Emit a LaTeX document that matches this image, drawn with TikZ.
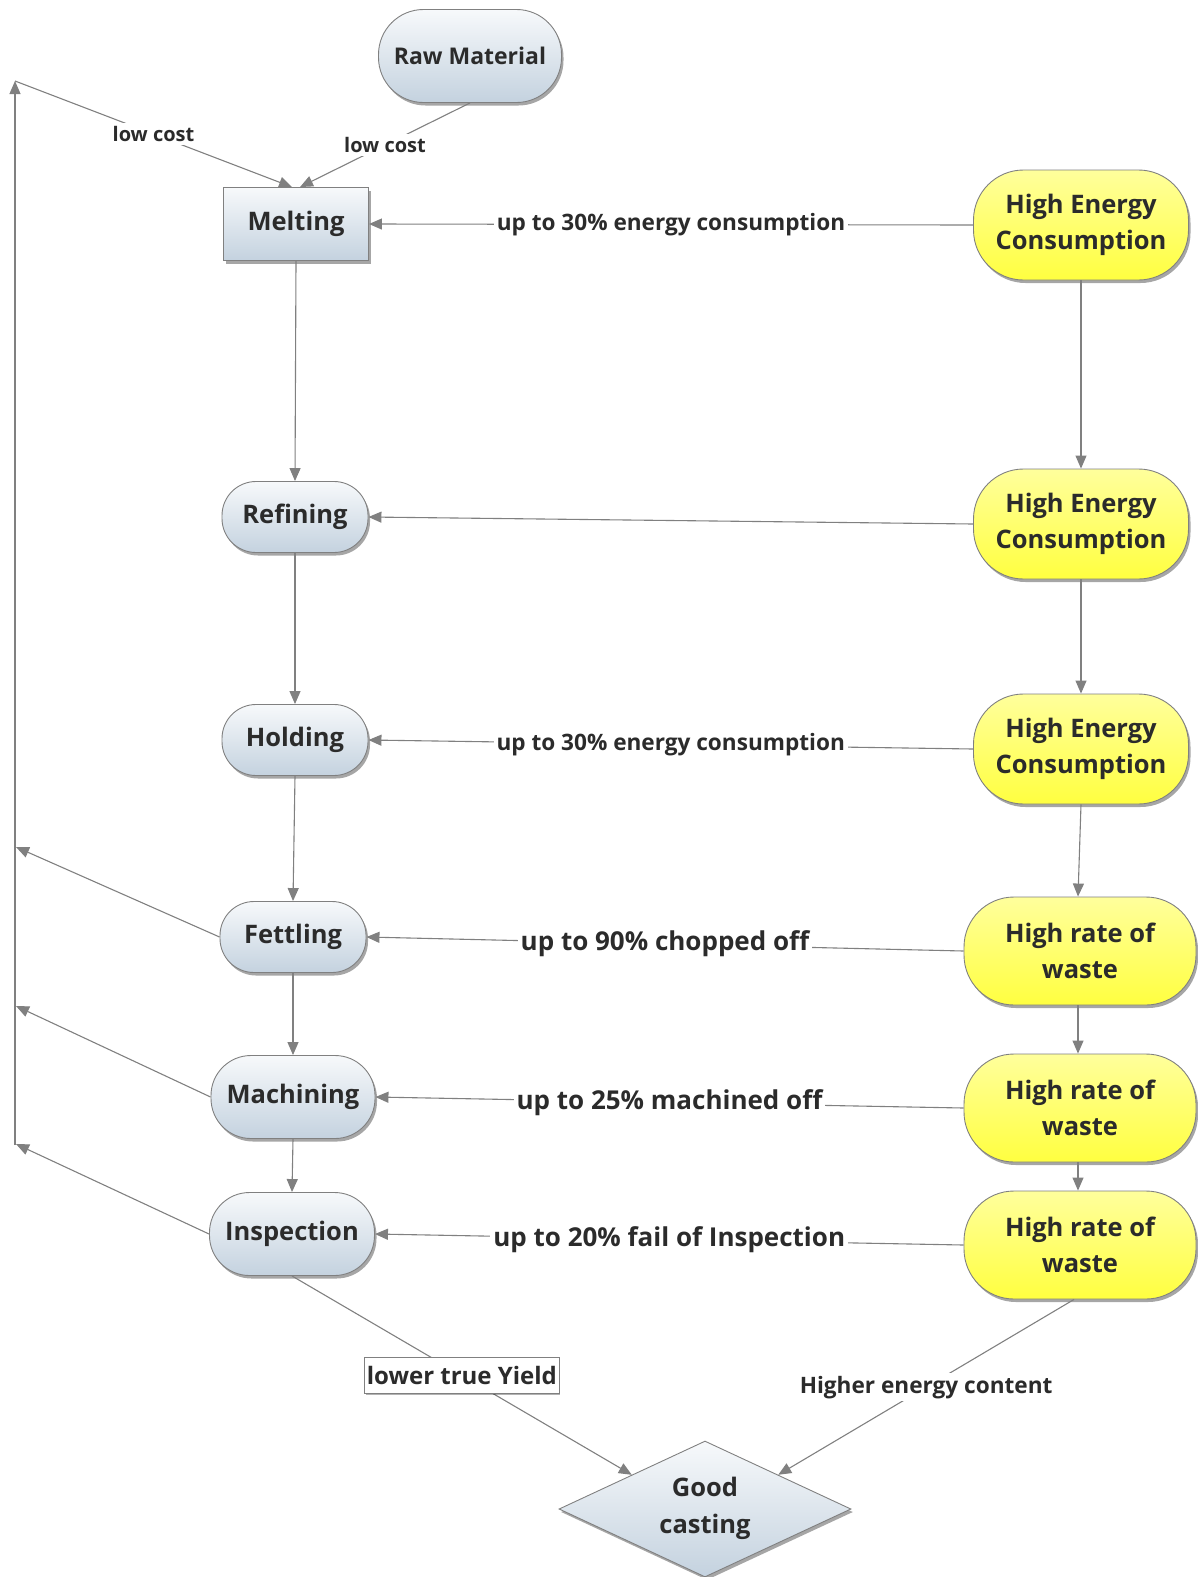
\documentclass[tikz,border=0pt]{standalone}
\usepackage{fontspec}
\setmainfont{Open Sans}
\usetikzlibrary{arrows.meta,shapes.geometric,shadows}
\definecolor{linegray}{HTML}{808080}
\definecolor{txt}{HTML}{2B2B2B}
\definecolor{btop}{HTML}{F7F9FB}
\definecolor{bbot}{HTML}{C4D2DF}
\definecolor{ytop}{HTML}{FFFF9C}
\definecolor{ymid}{HTML}{FFFF10}
\definecolor{ybot}{HTML}{FFFF40}
\begin{document}
\begin{tikzpicture}[x=1pt,y=1pt,
  base/.style={draw=linegray, line width=0.9pt, text=txt, align=center, inner sep=0pt,
    font=\fontsize{25.5}{36}\selectfont\bfseries,
    drop shadow={shadow xshift=2pt, shadow yshift=-3pt, opacity=0.35, fill=black}},
  procnode/.style={base, top color=btop, bottom color=bbot},
  yelnode/.style={base, top color=ytop, middle color=ymid, bottom color=ybot,
    minimum height=110pt, rounded corners=50pt},
  pill/.style={procnode, minimum height=71pt, rounded corners=34pt},
  conn/.style={draw=linegray, line width=1.1pt, -{Triangle[length=13pt,width=11pt]}},
  lbl/.style={fill=white, text=txt, inner sep=3pt, font=\fontsize{22.6}{26}\selectfont\bfseries},
  lblbig/.style={lbl, font=\fontsize{26}{30}\selectfont\bfseries},
  lblsmall/.style={lbl, font=\fontsize{20}{24}\selectfont\bfseries}
]
\useasboundingbox (0,0) rectangle (1197,-1577);

% left column
\node[procnode, minimum width=183pt, minimum height=93pt, rounded corners=45pt, font=\fontsize{23}{28}\selectfont\bfseries] (raw) at (470,-56) {Raw Material};
\node[procnode, minimum width=145pt, minimum height=73pt] (melting) at (296,-224) {Melting};
\node[pill, minimum width=146pt] (refining) at (295,-517) {Refining};
\node[pill, minimum width=146pt] (holding) at (295,-740) {Holding};
\node[pill, minimum width=146pt] (fettling) at (293,-937) {Fettling};
\node[pill, minimum width=164pt, minimum height=83pt, rounded corners=40pt] (machining) at (293,-1097) {Machining};
\node[pill, minimum width=165pt, minimum height=83pt, rounded corners=40pt] (inspection) at (292,-1234) {Inspection};

% right column
\node[yelnode, minimum width=215pt] (hec1) at (1081,-225) {High Energy\\Consumption};
\node[yelnode, minimum width=215pt] (hec2) at (1081,-524) {High Energy\\Consumption};
\node[yelnode, minimum width=215pt] (hec3) at (1081,-749) {High Energy\\Consumption};
\node[yelnode, minimum width=232pt, minimum height=108pt] (hrw1) at (1080,-951) {High rate of\\waste};
\node[yelnode, minimum width=232pt, minimum height=108pt] (hrw2) at (1080,-1108) {High rate of\\waste};
\node[yelnode, minimum width=232pt, minimum height=108pt] (hrw3) at (1080,-1245) {High rate of\\waste};

% good casting
\node[procnode, diamond, aspect=2.15, minimum width=292pt, minimum height=136pt, inner sep=0pt] (good) at (705,-1509) {};
\node[text=txt, font=\fontsize{25.5}{37}\selectfont\bfseries, align=center] (goodtxt) at (705,-1508) {Good\\casting};

% recycle loop coordinates
\coordinate (ltop) at (15,-81);
\coordinate (lbot) at (15,-1145);
\coordinate (ret1) at (16,-847);
\coordinate (ret2) at (16,-1006);
\coordinate (ret3) at (16,-1144);

% connectors
\draw[conn] (lbot) -- (ltop);
\draw[conn] (ltop) -- node[lblsmall]{low cost} ([xshift=-4pt]melting.north);
\draw[conn] (raw.south) -- node[lblsmall]{low cost} ([xshift=4pt]melting.north);

\draw[conn] (fettling.west) -- (ret1);
\draw[conn] (machining.west) -- (ret2);
\draw[conn] (inspection.west) -- (ret3);

\draw[conn] (melting.south) -- (refining.north);
\draw[conn] (refining.south) -- (holding.north);
\draw[conn] (holding.south) -- (fettling.north);
\draw[conn] (fettling.south) -- (machining.north);
\draw[conn] (machining.south) -- (inspection.north);

\draw[conn] (hec1.south) -- (hec2.north);
\draw[conn] (hec2.south) -- (hec3.north);
\draw[conn] (hec3.south) -- ([xshift=-2pt]hrw1.north);
\draw[conn] ([xshift=-2pt]hrw1.south) -- ([xshift=-2pt]hrw2.north);
\draw[conn] ([xshift=-2pt]hrw2.south) -- ([xshift=-2pt]hrw3.north);

\draw[conn] (hec1.west) -- node[lbl]{up to 30\% energy consumption} (melting.east);
\draw[conn] (hec2.west) -- (refining.east);
\draw[conn] (hec3.west) -- node[lbl]{up to 30\% energy consumption} (holding.east);
\draw[conn] (hrw1.west) -- node[lblbig]{up to 90\% chopped off} (fettling.east);
\draw[conn] (hrw2.west) -- node[lblbig]{up to 25\% machined off} (machining.east);
\draw[conn] (hrw3.west) -- node[lblbig]{up to 20\% fail of Inspection} (inspection.east);

\draw[conn] (inspection.south) -- node[lbl, draw=linegray, line width=0.8pt, inner xsep=2pt, minimum height=36pt, font=\fontsize{24}{28}\selectfont\bfseries, drop shadow={shadow xshift=1.5pt, shadow yshift=-2pt, opacity=0.3, fill=black}]{lower true Yield} (good.north west);
\draw[conn] ([xshift=-6pt]hrw3.south) -- node[lbl]{Higher energy content} (good.north east);
\end{tikzpicture}
\end{document}
